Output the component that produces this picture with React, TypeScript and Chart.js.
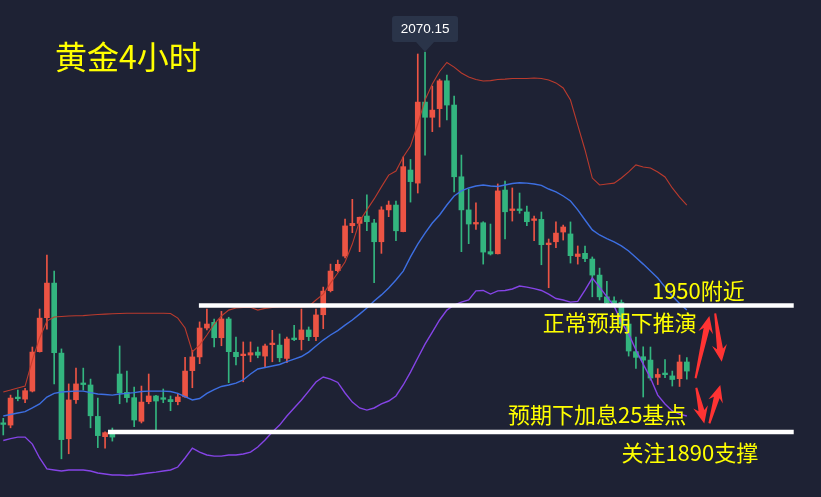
import React, { useEffect, useRef } from "react";
import { Chart, registerables } from "chart.js";

Chart.register(...registerables);

// ---- Data (4h gold candles) ----
const OPEN = [
  1893.8, 1893.3, 1906.1, 1905.6, 1909.4, 1928.1, 1944.2, 1960.6, 1927.4, 1886.8,
  1905.3, 1912.8, 1912.3, 1897.4, 1887.8, 1890.0, 1917.5, 1908.8, 1906.3, 1895.1,
  1904.4, 1907.1, 1905.8, 1905.4, 1904.4, 1906.7, 1919.1, 1925.6, 1939.3, 1942.0,
  1934.7, 1943.6, 1927.8, 1926.2, 1926.5, 1927.9, 1926.0, 1931.4, 1931.2, 1924.9,
  1934.1, 1933.8, 1938.4, 1935.2, 1945.6, 1957.0, 1966.5, 1973.4, 1987.8, 1988.9,
  1992.4, 1989.1, 1980.2, 1995.3, 1997.6, 1985.0, 2014.2, 2008.0, 2046.4, 2039.2,
  2043.3, 2056.5, 2045.0, 2011.0, 1995.3, 1988.6, 1989.2, 1975.5, 1974.5, 2004.7,
  1995.0, 1995.3, 1994.3, 1990.3, 1990.8, 1978.8, 1980.2, 1984.8, 1983.9, 1973.2,
  1974.7, 1972.0, 1964.4, 1954.1, 1952.2, 1951.4, 1941.2, 1928.1, 1925.7, 1924.1,
  1915.9, 1917.4, 1916.6, 1915.3, 1923.2,
];
const HIGH = [
  1896.5, 1907.5, 1909.9, 1910.7, 1930.3, 1948.3, 1973.9, 1966.3, 1929.4, 1912.8,
  1920.3, 1920.3, 1915.1, 1906.1, 1890.1, 1891.9, 1930.8, 1918.9, 1911.3, 1911.8,
  1917.5, 1907.4, 1910.4, 1907.1, 1908.0, 1925.4, 1928.7, 1942.2, 1948.3, 1943.6,
  1947.2, 1944.4, 1935.0, 1932.7, 1932.7, 1930.3, 1931.7, 1938.2, 1936.5, 1935.0,
  1940.6, 1948.3, 1939.8, 1948.3, 1958.7, 1969.6, 1971.5, 1991.0, 2000.3, 1991.9,
  2002.4, 1990.8, 1996.8, 1999.5, 1999.5, 2020.4, 2019.2, 2069.2, 2070.15, 2054.0,
  2057.3, 2059.2, 2049.3, 2021.3, 2005.1, 1998.7, 1989.7, 1988.6, 2007.6, 2009.0,
  2005.7, 2003.3, 1997.1, 1992.4, 1994.3, 1981.5, 1989.6, 1988.1, 1989.6, 1978.2,
  1978.2, 1973.0, 1967.7, 1961.4, 1954.1, 1952.6, 1943.1, 1935.0, 1930.4, 1930.3,
  1920.0, 1924.4, 1918.9, 1926.5, 1925.3,
];
const LOW = [
  1888.6, 1892.0, 1904.8, 1903.9, 1909.0, 1927.9, 1938.7, 1912.8, 1877.3, 1879.7,
  1903.6, 1909.9, 1892.0, 1882.6, 1882.3, 1885.7, 1903.4, 1904.1, 1892.5, 1894.3,
  1903.4, 1891.0, 1903.9, 1900.1, 1902.9, 1906.4, 1911.0, 1922.4, 1938.4, 1930.4,
  1930.9, 1913.4, 1921.8, 1913.8, 1923.3, 1925.2, 1921.0, 1923.3, 1923.3, 1922.9,
  1933.3, 1928.9, 1933.3, 1933.3, 1939.0, 1956.4, 1965.9, 1972.5, 1984.5, 1975.5,
  1985.4, 1960.8, 1974.7, 1992.1, 1980.7, 1984.9, 1999.0, 2003.3, 2021.3, 2032.4,
  2034.6, 2037.9, 2003.8, 1975.5, 1979.3, 1986.1, 1969.6, 1973.9, 1974.4, 1981.5,
  1990.0, 1993.7, 1987.8, 1980.7, 1969.3, 1958.4, 1977.4, 1981.0, 1970.1, 1969.6,
  1970.7, 1954.1, 1952.6, 1949.9, 1949.3, 1939.3, 1926.0, 1920.2, 1906.6, 1914.6,
  1912.5, 1915.8, 1911.8, 1911.6, 1915.1,
];
const CLOSE = [
  1893.6, 1906.1, 1905.8, 1909.6, 1927.9, 1944.0, 1960.6, 1927.6, 1886.4, 1905.2,
  1912.8, 1912.5, 1897.7, 1888.3, 1889.7, 1887.6, 1908.6, 1906.3, 1895.7, 1904.2,
  1907.1, 1904.7, 1905.5, 1904.4, 1906.6, 1918.9, 1925.6, 1939.3, 1941.2, 1934.7,
  1943.6, 1928.1, 1925.7, 1926.6, 1927.6, 1926.4, 1930.8, 1931.8, 1925.2, 1934.1,
  1933.8, 1938.4, 1935.2, 1945.5, 1956.8, 1966.3, 1969.5, 1987.7, 1988.9, 1991.8,
  1989.7, 1980.2, 1995.3, 1997.6, 1985.4, 2015.8, 2008.7, 2046.4, 2039.2, 2042.6,
  2056.5, 2045.0, 2011.0, 1995.3, 1988.6, 1988.9, 1975.3, 1974.4, 2004.3, 1994.4,
  1995.3, 1995.0, 1989.7, 1990.6, 1978.8, 1979.6, 1984.3, 1987.2, 1973.6, 1974.4,
  1972.2, 1964.4, 1954.1, 1951.2, 1951.0, 1941.2, 1928.4, 1925.4, 1924.1, 1915.6,
  1917.3, 1917.2, 1914.9, 1923.2, 1918.9,
];

// Bollinger bands
const BOLL_UPPER = [
  1909.0, 1909.9, 1910.9, 1911.8, 1924.1, 1934.6, 1942.6, 1944.5, 1944.8, 1945.0,
  1945.1, 1945.2, 1945.5, 1945.7, 1945.9, 1946.1, 1946.2, 1946.3, 1946.3, 1946.3,
  1946.3, 1946.3, 1946.3, 1946.2, 1944.0, 1939.3, 1928.1, 1931.2, 1936.0, 1941.2,
  1945.0, 1947.8, 1948.8, 1949.0, 1949.1, 1947.8, 1948.6, 1949.0, 1949.3, 1949.3,
  1949.3, 1949.3, 1949.5, 1952.6, 1955.4, 1960.6, 1965.4, 1970.6, 1979.1, 1990.0,
  1995.3, 2000.5, 2006.2, 2011.8, 2013.7, 2020.4, 2025.6, 2036.0, 2047.4, 2055.0,
  2060.9, 2065.2, 2063.0, 2060.2, 2058.3, 2057.1, 2056.4, 2056.6, 2057.1, 2057.3,
  2057.6, 2057.6, 2057.6, 2057.8, 2057.6, 2056.9, 2055.5, 2053.1, 2047.4, 2035.5,
  2023.7, 2010.4, 2007.1, 2007.6, 2008.0, 2010.4, 2013.3, 2016.6, 2015.6, 2015.2,
  2013.3, 2010.9, 2005.7, 2001.4, 1997.6,
];
const BOLL_MID = [
  1897.6, 1898.3, 1899.0, 1899.7, 1901.4, 1903.3, 1906.6, 1908.3, 1909.0, 1909.2,
  1909.4, 1909.4, 1908.7, 1908.0, 1907.8, 1907.5, 1908.0, 1908.3, 1908.7, 1909.2,
  1909.4, 1909.4, 1909.4, 1909.2, 1908.3, 1906.8, 1905.2, 1905.9, 1908.3, 1910.1,
  1911.6, 1912.3, 1913.2, 1914.7, 1917.5, 1919.9, 1920.6, 1921.3, 1922.0, 1923.4,
  1924.6, 1925.8, 1927.9, 1930.8, 1933.6, 1936.0, 1938.1, 1940.7, 1943.1, 1945.9,
  1948.8, 1952.1, 1955.0, 1958.3, 1962.1, 1966.3, 1973.0, 1979.1, 1984.3, 1989.1,
  1992.9, 1997.6, 2001.9, 2004.3, 2005.7, 2006.6, 2007.1, 2006.6, 2006.4, 2007.1,
  2007.8, 2008.2, 2008.0, 2007.6, 2006.9, 2005.2, 2003.8, 2001.9, 1999.5, 1995.3,
  1990.5, 1985.8, 1983.4, 1981.7, 1980.1, 1978.2, 1975.8, 1972.7, 1969.6, 1966.3,
  1963.0, 1958.7, 1954.5, 1950.9, 1947.8,
];
const BOLL_LOWER = [
  1886.0, 1886.9, 1887.6, 1887.6, 1884.3, 1877.7, 1872.5, 1872.0, 1871.5, 1872.0,
  1872.0, 1872.0, 1871.5, 1870.6, 1870.1, 1869.6, 1869.6, 1869.4, 1869.6, 1870.1,
  1870.6, 1871.0, 1871.5, 1872.0, 1873.4, 1877.7, 1882.4, 1880.5, 1879.1, 1878.6,
  1878.6, 1879.1, 1879.1, 1879.6, 1880.5, 1882.9, 1886.2, 1890.0, 1893.3, 1897.6,
  1901.4, 1905.2, 1909.4, 1913.7, 1916.1, 1915.1, 1913.5, 1908.5, 1904.2, 1901.4,
  1900.4, 1901.4, 1903.3, 1904.7, 1907.1, 1912.3, 1918.4, 1925.1, 1931.7, 1937.4,
  1943.1, 1947.8, 1950.2, 1951.6, 1952.6, 1956.9, 1957.1, 1955.4, 1956.9, 1957.1,
  1957.8, 1959.2, 1958.7, 1958.0, 1957.1, 1955.4, 1953.3, 1952.6, 1951.6, 1951.9,
  1957.3, 1963.0, 1958.7, 1954.2, 1949.7, 1942.2, 1936.5, 1928.9, 1922.2, 1915.6,
  1907.5, 1903.3, 1900.0, 1898.5, 1897.6,
];

// Annotations
const TITLE = "黄金4小时";
const PEAK_INDEX = 58;
const PEAK_LABEL = "2070.15";
const LEVEL_PRICES = [1950, 1890];
const LEVEL_FROM = [26.9, 14.4];
const LEVEL_TO = [108.7, 108.7];
const NOTE_TEXTS = ["1950附近", "正常预期下推演", "预期下加息25基点", "关注1890支撑"];
const NOTE_X = [89.2, 74.2, 69.4, 85.0];
const NOTE_Y = [1956.8, 1941.9, 1898.1, 1880.0];
// arrows: [tailX, tailY, tipX, tipY] in (candle index, price)
const ARROWS = [
  [95.2, 1915.5, 97.1, 1945.0],
  [97.9, 1946.3, 98.8, 1923.3],
  [95.3, 1911.0, 96.4, 1894.1],
  [97.1, 1894.1, 98.6, 1912.3],
];

// ---- Styles ----
const BG = "#1e2234";
const UP = "#ec5444";
const DOWN = "#33b57f";
const X_MIN = -0.45;
const X_MAX = 112.45;
const Y_MIN = 1859.2;
const Y_MAX = 2094.8;

function drawArrow(ctx: CanvasRenderingContext2D, x0: number, y0: number, x1: number, y1: number) {
  const dx = x1 - x0;
  const dy = y1 - y0;
  const len = Math.hypot(dx, dy);
  const ux = dx / len;
  const uy = dy / len;
  const nx = -uy;
  const ny = ux;
  const headLen = 17;
  const headW = 7.5;
  const shaftW = 3;
  const tailW = 1;
  const bx = x1 - ux * headLen;
  const by = y1 - uy * headLen;
  const cx = x1 - ux * (headLen - 4);
  const cy = y1 - uy * (headLen - 4);
  ctx.beginPath();
  ctx.moveTo(x0 + nx * tailW, y0 + ny * tailW);
  ctx.lineTo(cx + nx * shaftW, cy + ny * shaftW);
  ctx.lineTo(bx + nx * headW, by + ny * headW);
  ctx.lineTo(x1, y1);
  ctx.lineTo(bx - nx * headW, by - ny * headW);
  ctx.lineTo(cx - nx * shaftW, cy - ny * shaftW);
  ctx.lineTo(x0 - nx * tailW, y0 - ny * tailW);
  ctx.closePath();
  ctx.fill();
}

const overlayPlugin = {
  id: "overlay",
  afterDatasetsDraw(chart: any) {
    const ctx: CanvasRenderingContext2D = chart.ctx;
    const xs = chart.scales.x;
    const ys = chart.scales.y;
    ctx.save();

    // title
    ctx.fillStyle = "#ffff00";
    ctx.textBaseline = "middle";
    ctx.textAlign = "left";
    ctx.font = '32px "Noto Sans CJK SC", sans-serif';
    ctx.fillText(TITLE, 55, 57);

    // notes
    ctx.font = '22px "Noto Sans CJK SC", sans-serif';
    NOTE_TEXTS.forEach((t, i) => {
      ctx.fillText(t, xs.getPixelForValue(NOTE_X[i]), ys.getPixelForValue(NOTE_Y[i]));
    });

    // arrows
    ctx.fillStyle = "#ff3333";
    ARROWS.forEach((a) => {
      drawArrow(
        ctx,
        xs.getPixelForValue(a[0]),
        ys.getPixelForValue(a[1]),
        xs.getPixelForValue(a[2]),
        ys.getPixelForValue(a[3])
      );
    });

    // peak label
    const px = xs.getPixelForValue(PEAK_INDEX);
    const py = ys.getPixelForValue(HIGH[PEAK_INDEX]);
    const boxW = 66;
    const boxH = 26;
    const tipH = 10;
    const bottom = py - tipH;
    const top = bottom - boxH;
    const left = px - boxW / 2;
    ctx.fillStyle = "#2a3449";
    ctx.beginPath();
    const r = 3;
    ctx.moveTo(left + r, top);
    ctx.lineTo(left + boxW - r, top);
    ctx.quadraticCurveTo(left + boxW, top, left + boxW, top + r);
    ctx.lineTo(left + boxW, bottom - r);
    ctx.quadraticCurveTo(left + boxW, bottom, left + boxW - r, bottom);
    ctx.lineTo(px + 9, bottom);
    ctx.lineTo(px, py);
    ctx.lineTo(px - 9, bottom);
    ctx.lineTo(left + r, bottom);
    ctx.quadraticCurveTo(left, bottom, left, bottom - r);
    ctx.lineTo(left, top + r);
    ctx.quadraticCurveTo(left, top, left + r, top);
    ctx.closePath();
    ctx.fill();
    ctx.fillStyle = "#ffffff";
    ctx.textAlign = "center";
    ctx.font = '13.5px "Liberation Sans", Arial, sans-serif';
    ctx.fillText(PEAK_LABEL, px, top + boxH / 2 + 0.5);

    ctx.restore();
  },
};

export default function App() {
  const ref = useRef<HTMLCanvasElement>(null);

  useEffect(() => {
    document.body.style.margin = "0";
    document.body.style.background = BG;
    const colors = OPEN.map((o, i) => (CLOSE[i] >= o ? UP : DOWN));
    const idx = OPEN.map((_, i) => i);

    const lineDs = (label: string, values: number[], color: string, width: number, order: number) => ({
      type: "line" as const,
      label,
      data: values.map((v, i) => ({ x: i, y: v })),
      borderColor: color,
      borderWidth: width,
      pointRadius: 0,
      tension: 0,
      fill: false,
      order,
    });

    const levelDs = LEVEL_PRICES.map((p, k) => ({
      type: "line" as const,
      label: "level" + k,
      data: [
        { x: LEVEL_FROM[k], y: p },
        { x: LEVEL_TO[k], y: p },
      ],
      borderColor: "#ffffff",
      borderWidth: 4.5,
      borderCapStyle: "butt",
      pointRadius: 0,
      order: 0,
    }));

    const chart = new Chart(ref.current as HTMLCanvasElement, {
      type: "bar",
      data: {
        datasets: [
          ...levelDs,
          lineDs("upper", BOLL_UPPER, "rgba(195,60,45,0.95)", 1.1, 1),
          lineDs("mid", BOLL_MID, "#3d6fe2", 1.4, 1),
          lineDs("lower", BOLL_LOWER, "#8544e6", 1.4, 1),
          {
            type: "bar",
            label: "body",
            data: idx.map((i) => ({ x: i, y: [OPEN[i], CLOSE[i]] })),
            backgroundColor: colors,
            borderWidth: 0,
            barThickness: 5,
            minBarLength: 1.6,
            grouped: false,
            order: 2,
          },
          {
            type: "bar",
            label: "wick",
            data: idx.map((i) => ({ x: i, y: [LOW[i], HIGH[i]] })),
            backgroundColor: colors,
            borderWidth: 0,
            barThickness: 1,
            grouped: false,
            order: 3,
          },
        ] as any,
      },
      options: {
        animation: false,
        responsive: false,
        devicePixelRatio: 1,
        layout: { padding: 0 },
        events: [],
        scales: {
          x: { type: "linear", min: X_MIN, max: X_MAX, display: false, offset: false },
          y: { type: "linear", min: Y_MIN, max: Y_MAX, display: false },
        },
        plugins: {
          legend: { display: false },
          tooltip: { enabled: false },
          title: { display: false },
        },
      } as any,
      plugins: [overlayPlugin],
    });
    return () => chart.destroy();
  }, []);

  return (
    <div style={{ width: 821, height: 497, background: BG }}>
      <canvas ref={ref} width={821} height={497} style={{ display: "block", width: 821, height: 497 }} />
    </div>
  );
}
